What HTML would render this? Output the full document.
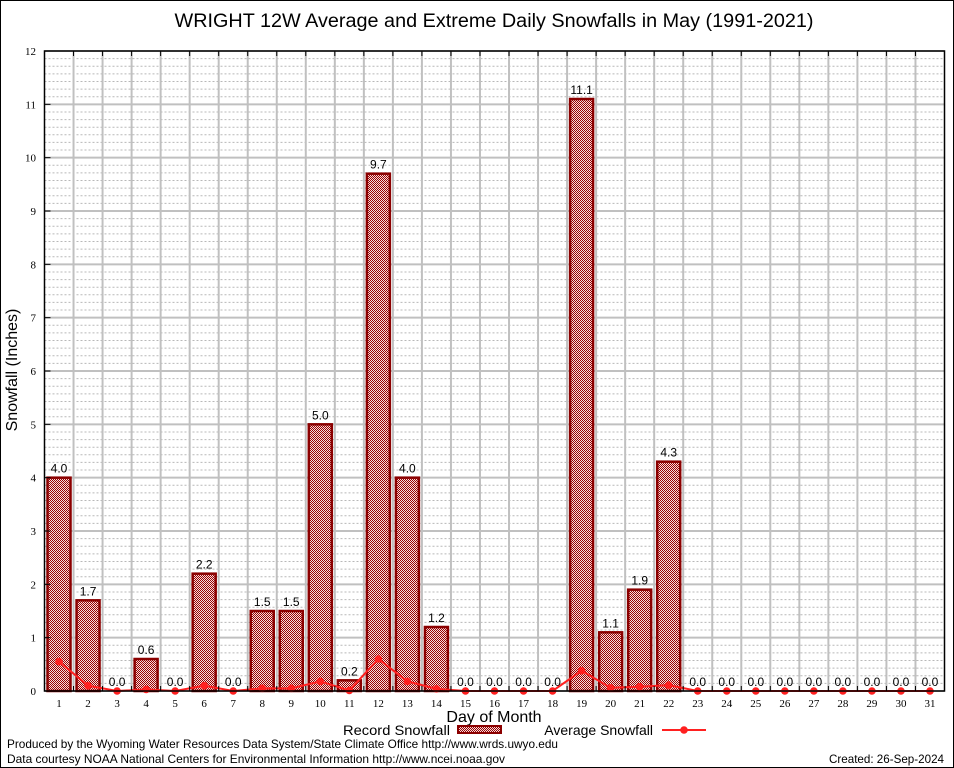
<!DOCTYPE html>
<html><head><meta charset="utf-8"><style>
html,body{margin:0;padding:0;background:#fff;}
svg{display:block;font-family:"Liberation Sans",sans-serif;}
</style></head><body>
<svg id="chart" width="954" height="768" viewBox="0 0 954 768" xmlns="http://www.w3.org/2000/svg">
<defs>
<pattern id="hatch" width="2" height="2" patternUnits="userSpaceOnUse">
<rect width="2" height="2" fill="#f4dede"/>
<rect width="1" height="1" fill="#9a0000"/>
<rect x="1" y="1" width="1" height="1" fill="#9a0000"/>
</pattern>
</defs>
<rect x="0.5" y="0.5" width="953" height="767" fill="#fff" stroke="#000"/>
<text x="494" y="27" text-anchor="middle" font-size="19" textLength="639" lengthAdjust="spacingAndGlyphs">WRIGHT 12W Average and Extreme Daily Snowfalls in May (1991-2021)</text>
<g id="grid"></g>
<g id="bars"></g>
<g id="line"></g>
<g id="axes"></g>
<text x="17" y="370" transform="rotate(-90 17 370)" text-anchor="middle" font-size="16">Snowfall (Inches)</text>
<text x="494" y="722" text-anchor="middle" font-size="16">Day of Month</text>
<g>
<g>
<text x="450" y="735" text-anchor="end" font-size="14" textLength="107" lengthAdjust="spacingAndGlyphs">Record Snowfall</text>
<rect x="458" y="726" width="43" height="7" fill="url(#hatch)" stroke="#8b0000" stroke-width="2"/>
</g>
<g>
<text x="653" y="735" text-anchor="end" font-size="14">Average Snowfall</text>
<line x1="662" y1="730" x2="706" y2="730" stroke="#ff2020" stroke-width="2"/>
<circle cx="684" cy="730" r="3.8" fill="#ff2020"/>
</g>
</g>
<text x="7" y="748" font-size="12" textLength="551" lengthAdjust="spacingAndGlyphs">Produced by the Wyoming Water Resources Data System/State Climate Office http://www.wrds.uwyo.edu</text>
<text x="7" y="763" font-size="12" textLength="498" lengthAdjust="spacingAndGlyphs">Data courtesy NOAA National Centers for Environmental Information http://www.ncei.noaa.gov</text>
<text x="944" y="763" text-anchor="end" font-size="12" textLength="115" lengthAdjust="spacingAndGlyphs">Created: 26-Sep-2024</text>
</svg>
<script>
const days = [1,2,3,4,5,6,7,8,9,10,11,12,13,14,15,16,17,18,19,20,21,22,23,24,25,26,27,28,29,30,31];
const recordSnow = [4.0,1.7,0.0,0.6,0.0,2.2,0.0,1.5,1.5,5.0,0.2,9.7,4.0,1.2,0.0,0.0,0.0,0.0,11.1,1.1,1.9,4.3,0.0,0.0,0.0,0.0,0.0,0.0,0.0,0.0,0.0];
const avgSnow = [0.55,0.1,0.0,0.03,0.0,0.1,0.0,0.05,0.05,0.18,0.01,0.6,0.18,0.04,0.0,0.0,0.0,0.0,0.38,0.06,0.08,0.11,0.0,0.0,0.0,0.0,0.0,0.0,0.0,0.0,0.0];
const yTicks = [0,1,2,3,4,5,6,7,8,9,10,11,12];

const NS = "http://www.w3.org/2000/svg";
const L = 44.5, R = 944.5, T = 51, B = 691, yMax = 12;
const step = (R - L) / days.length;
function xs(d) { return L + (d - 0.5) * step; }
function ys(v) { return B - v / yMax * (B - T); }
function mk(tag, attrs, parent) {
  const e = document.createElementNS(NS, tag);
  for (const k in attrs) e.setAttribute(k, attrs[k]);
  parent.appendChild(e);
  return e;
}
const grid = document.getElementById('grid');
const bars = document.getElementById('bars');
const line = document.getElementById('line');
const axes = document.getElementById('axes');

for (let i = 0; i < yMax; i++) {
  for (let k = 1; k < 7; k++) {
    const y = ys(i + k / 7);
    const g = mk('line', {x1: L, x2: R, y1: y, y2: y, stroke: '#b8b8b8', 'stroke-width': 1, 'stroke-dasharray': '2,2'}, grid);
    
    
  }
}
yTicks.forEach(v => {
  const y = ys(v);
  const g = mk('line', {x1: L, x2: R, y1: y, y2: y, stroke: '#c0c0c0', 'stroke-width': 2}, grid);
  
  
  const t = mk('text', {x: 36, y: y + 4, 'text-anchor': 'end', 'font-size': 11, 'font-family': '"Liberation Serif",serif'}, axes);
  t.textContent = v;
  
  
  const tk = mk('line', {x1: L, x2: L + 6, y1: y, y2: y, stroke: '#000'}, axes);
  
  
});
for (let i = 1; i < days.length; i++) {
  const x = L + i * step;
  const g = mk('line', {x1: x, x2: x, y1: T, y2: B, stroke: '#c0c0c0', 'stroke-width': 2}, grid);
  
  
  const tk = mk('line', {x1: x, x2: x, y1: T, y2: T + 5, stroke: '#000'}, axes);
  
  
  const tb = mk('line', {x1: x, x2: x, y1: B, y2: B - 5, stroke: '#000'}, axes);
  
  
}
days.forEach((d, i) => {
  const v = recordSnow[i];
  const cx = xs(d), w = 23;
  if (v > 0) {
    const y = ys(v);
    const b = mk('rect', {x: cx - w / 2, y: y, width: w, height: B - y, fill: 'url(#hatch)', stroke: '#8b0000', 'stroke-width': 2.5}, bars);
    
    
  }
  const t = mk('text', {x: cx, y: ys(v) - 5, 'text-anchor': 'middle', 'font-size': 12}, bars);
  t.textContent = v.toFixed(1);
  
  
  const xl = mk('text', {x: cx, y: 707, 'text-anchor': 'middle', 'font-size': 11, 'font-family': '"Liberation Serif",serif'}, axes);
  xl.textContent = d;
  
  
});
const pts = days.map((d, i) => xs(d) + ',' + ys(avgSnow[i])).join(' ');
const pl = mk('polyline', {points: pts, fill: 'none', stroke: '#ff2020', 'stroke-width': 2}, line);


days.forEach((d, i) => {
  const c = mk('circle', {cx: xs(d), cy: ys(avgSnow[i]), r: 3.8, fill: '#ff2020'}, line);
  
  
});
const fr = mk('rect', {x: L, y: T, width: R - L, height: B - T, fill: 'none', stroke: '#000', 'stroke-width': 1.5}, axes);


</script>
</body></html>
